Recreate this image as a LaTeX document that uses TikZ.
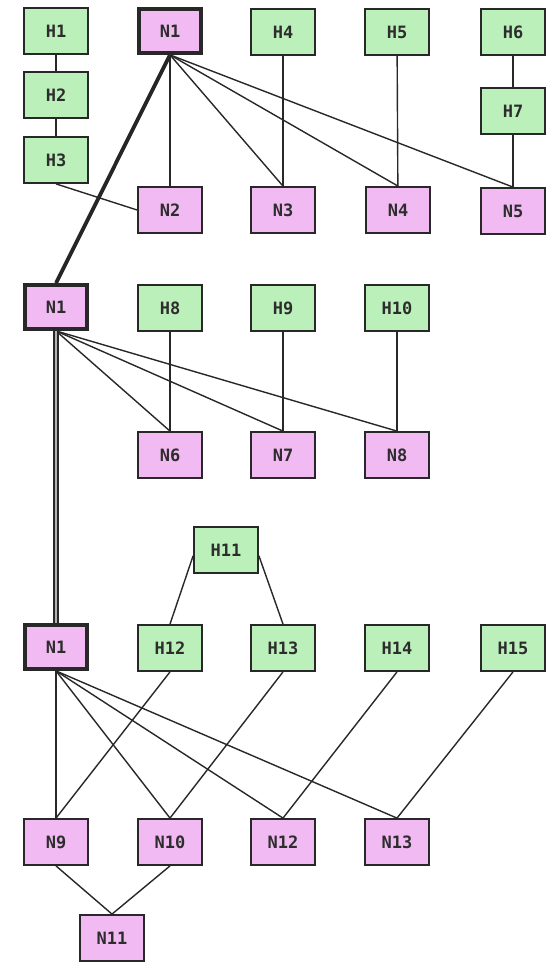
\documentclass[tikz,border=0pt]{standalone}
\usepackage{fontspec}
\newfontfamily\boxfont{DejaVu Sans Mono}
\definecolor{hgreen}{RGB}{188,240,186}
\definecolor{npink}{RGB}{242,186,242}
\definecolor{edgec}{RGB}{40,40,40}
\definecolor{txtc}{RGB}{45,45,45}
\begin{document}
\begin{tikzpicture}[x=1pt,y=-1pt,
  box/.style={draw=edgec, line width=1.8pt, minimum width=64pt, minimum height=46pt,
    inner sep=0pt, font=\boxfont\bfseries\fontsize{17}{17}\selectfont, text=txtc},
  hbox/.style={box, fill=hgreen},
  nbox/.style={box, fill=npink},
  rootbox/.style={box, fill=npink, line width=3.8pt, minimum width=62pt, minimum height=44pt},
  link/.style={draw=edgec, line width=1.4pt},
  thicklink/.style={draw=black!85, line width=3.8pt},
  doublelink/.style={draw=edgec, line width=1.5pt, double=gray!60, double distance=2.4pt}
]
\useasboundingbox[fill=white] (0,0) rectangle (547,963);

% top group
\node[hbox] (H1) at (56,31) {H1};
\node[rootbox] (N1a) at (170,31) {N1};
\node[hbox] (H4) at (283,32) {H4};
\node[hbox] (H5) at (397,32) {H5};
\node[hbox] (H6) at (513,32) {H6};
\node[hbox] (H2) at (56,95) {H2};
\node[hbox] (H3) at (56,160) {H3};
\node[hbox] (H7) at (513,111) {H7};
\node[nbox] (N2) at (170,210) {N2};
\node[nbox] (N3) at (283,210) {N3};
\node[nbox] (N4) at (398,210) {N4};
\node[nbox] (N5) at (513,211) {N5};

% middle group
\node[rootbox] (N1b) at (56,307) {N1};
\node[hbox] (H8) at (170,308) {H8};
\node[hbox] (H9) at (283,308) {H9};
\node[hbox] (H10) at (397,308) {H10};
\node[nbox] (N6) at (170,455) {N6};
\node[nbox] (N7) at (283,455) {N7};
\node[nbox] (N8) at (397,455) {N8};

% bottom group
\node[hbox] (H11) at (226,550) {H11};
\node[rootbox] (N1c) at (56,647) {N1};
\node[hbox] (H12) at (170,648) {H12};
\node[hbox] (H13) at (283,648) {H13};
\node[hbox] (H14) at (397,648) {H14};
\node[hbox] (H15) at (513,648) {H15};
\node[nbox] (N9) at (56,842) {N9};
\node[nbox] (N10) at (170,842) {N10};
\node[nbox] (N12) at (283,842) {N12};
\node[nbox] (N13) at (397,842) {N13};
\node[nbox] (N11) at (112,938) {N11};

% top connectors
\draw[link] (H1) -- (H2);
\draw[link] (H2) -- (H3);
\draw[link] (H3.south) -- (N2.west);
\draw[link] (N1a.south) -- (N2.north);
\draw[link] (N1a.south) -- (N3.north);
\draw[link] (N1a.south) -- (N4.north);
\draw[link] (N1a.south) -- (N5.north);
\draw[link] (H4) -- (N3);
\draw[link] (H5) -- (N4);
\draw[link] (H6) -- (H7);
\draw[link] (H7) -- (N5);
\draw[thicklink] (N1a.south) -- (N1b.north);

% middle connectors
\draw[link] (N1b.south) -- (N6.north);
\draw[link] (N1b.south) -- (N7.north);
\draw[link] (N1b.south) -- (N8.north);
\draw[link] (H8) -- (N6);
\draw[link] (H9) -- (N7);
\draw[link] (H10) -- (N8);
\draw[doublelink] (N1b.south) -- (N1c.north);

% bottom connectors
\draw[link] (H11.190) -- (H12.north);
\draw[link] (H11.-10) -- (H13.north);
\draw[link] (N1c.south) -- (N9.north);
\draw[link] (N1c.south) -- (N10.north);
\draw[link] (N1c.south) -- (N12.north);
\draw[link] (N1c.south) -- (N13.north);
\draw[link] (H12.south) -- (N9.north);
\draw[link] (H13.south) -- (N10.north);
\draw[link] (H14.south) -- (N12.north);
\draw[link] (H15.south) -- (N13.north);
\draw[link] (N9.south) -- (N11.north);
\draw[link] (N10.south) -- (N11.north);
\end{tikzpicture}
\end{document}
